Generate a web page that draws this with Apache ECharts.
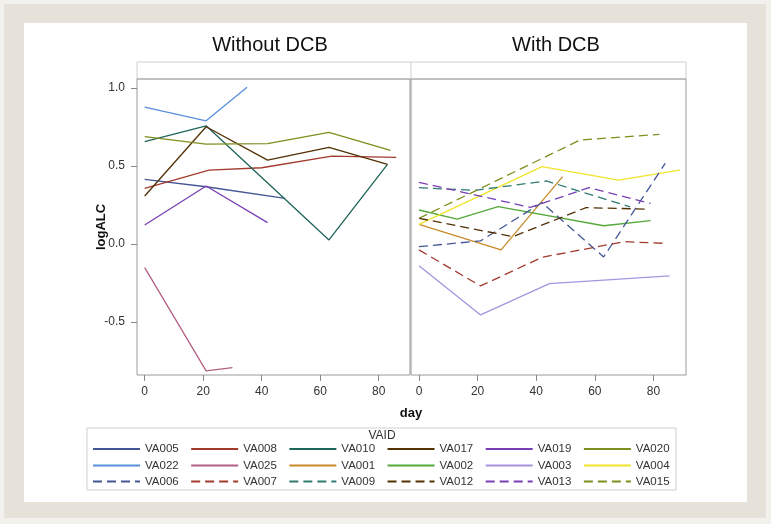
<!DOCTYPE html>
<html>
<head>
<meta charset="utf-8">
<script src="https://cdn.jsdelivr.net/npm/echarts@6/dist/echarts.min.js"></script>
<style>
html, body { margin: 0; padding: 0; background: #f3f1ed; }
#chart { width: 771px; height: 524px; }
</style>
</head>
<body>
<div id="chart"></div>
<script>
// day, logALC pairs
// Without DCB
var va005 = [[0, 0.415], [21, 0.367], [48, 0.293]];
var va008 = [[0, 0.357], [22, 0.474], [40, 0.489], [64, 0.564], [86, 0.556]];
var va010 = [[0, 0.656], [21, 0.758], [63, 0.026], [83, 0.51]];
var va017 = [[0, 0.308], [21, 0.752], [42, 0.538], [63, 0.62], [83, 0.51]];
var va019 = [[0, 0.122], [21, 0.372], [42, 0.137]];
var va020 = [[0, 0.688], [21, 0.64], [42, 0.643], [63, 0.716], [84, 0.60]];
var va022 = [[0, 0.878], [21, 0.79], [35, 1.005]];
var va025 = [[0, -0.152], [21, -0.814], [30, -0.793]];
// With DCB
var va001 = [[0, 0.126], [28, -0.038], [49, 0.432]];
var va002 = [[0, 0.218], [13, 0.16], [27, 0.239], [63, 0.117], [79, 0.15]];
var va003 = [[0, -0.139], [21, -0.455], [44.5, -0.254], [85.5, -0.205]];
var va004 = [[0, 0.126], [42, 0.496], [68, 0.41], [89, 0.474]];
var va006 = [[0, -0.017], [21, 0.02], [42, 0.265], [63, -0.083], [84, 0.517]];
var va007 = [[0, -0.038], [21, -0.269], [42, -0.085], [70, 0.015], [84, 0.004]];
var va009 = [[0, 0.361], [19, 0.344], [43.5, 0.404], [72, 0.238]];
var va012 = [[0, 0.165], [32, 0.047], [57, 0.233], [77, 0.224]];
var va013 = [[0, 0.395], [38, 0.235], [58, 0.361], [79, 0.26]];
var va015 = [[0, 0.165], [55, 0.667], [82, 0.703]];

var panelTitles = ['Without DCB', 'With DCB'];
var xTicks = [0, 20, 40, 60, 80];
var yTicks = [-0.5, 0, 0.5, 1.0];

var leftIds = ['VA005', 'VA008', 'VA010', 'VA017', 'VA019', 'VA020', 'VA022', 'VA025'];
var rightIds = ['VA001', 'VA002', 'VA003', 'VA004', 'VA006', 'VA007', 'VA009', 'VA012', 'VA013', 'VA015'];
var legendRows = [
    ['VA005', 'VA008', 'VA010', 'VA017', 'VA019', 'VA020'],
    ['VA022', 'VA025', 'VA001', 'VA002', 'VA003', 'VA004'],
    ['VA006', 'VA007', 'VA009', 'VA012', 'VA013', 'VA015']
];

var subjects = {
    VA005: va005, VA008: va008, VA010: va010, VA017: va017, VA019: va019, VA020: va020,
    VA022: va022, VA025: va025, VA001: va001, VA002: va002, VA003: va003, VA004: va004,
    VA006: va006, VA007: va007, VA009: va009, VA012: va012, VA013: va013, VA015: va015
};
var colors = {
    VA005: '#445694', VA008: '#a23a2e', VA010: '#1f6659', VA017: '#543005', VA019: '#7a3fb5', VA020: '#7f8e1f',
    VA022: '#5b8fdc', VA025: '#b26084', VA001: '#c98a2a', VA002: '#55a83a', VA003: '#a794de', VA004: '#f0e42a',
    VA006: '#445694', VA007: '#a23a2e', VA009: '#2f7a72', VA012: '#543005', VA013: '#7a3fb5', VA015: '#7f8e1f'
};
var dashed = ['VA006', 'VA007', 'VA009', 'VA012', 'VA013', 'VA015'];

var FONT = 'Liberation Sans, Arial, sans-serif';

function makeSeries(id, gi) {
    return {
        name: id,
        type: 'line',
        xAxisIndex: gi,
        yAxisIndex: gi,
        data: subjects[id],
        symbol: 'none',
        silent: true,
        lineStyle: {
            color: colors[id],
            width: 1.3,
            type: dashed.indexOf(id) >= 0 ? [9, 5] : 'solid'
        },
        itemStyle: { color: colors[id], opacity: 0 }
    };
}

function xAxis(gi, min, max) {
    return {
        type: 'value', gridIndex: gi, min: min, max: max,
        axisLine: { show: false, onZero: false },
        splitLine: { show: false },
        axisTick: { show: true, length: 6, customValues: xTicks, lineStyle: { color: '#888' } },
        axisLabel: { customValues: xTicks, margin: 11, color: '#333', fontSize: 12, fontFamily: FONT }
    };
}

function yAxis(gi, showLabels) {
    return {
        type: 'value', gridIndex: gi, min: -0.84, max: 1.058,
        axisLine: { show: false, onZero: false },
        splitLine: { show: false },
        axisTick: { show: showLabels, length: 6, customValues: yTicks, lineStyle: { color: '#888' } },
        axisLabel: {
            show: showLabels, customValues: yTicks, margin: 12, color: '#333', fontSize: 12, fontFamily: FONT,
            formatter: function (v) { return v.toFixed(1); }
        }
    };
}

function legendRow(row, top) {
    return {
        data: row, left: 92, top: top, padding: 0,
        itemWidth: 47, itemHeight: 10, itemGap: 11.5,
        selectedMode: false,
        itemStyle: { opacity: 0 },
        textStyle: { color: '#333', fontSize: 11.5, fontFamily: FONT }
    };
}

var series = [];
leftIds.forEach(function (id) { series.push(makeSeries(id, 0)); });
rightIds.forEach(function (id) { series.push(makeSeries(id, 1)); });

var chart = echarts.init(document.getElementById('chart'));
chart.setOption({
    animation: false,
    backgroundColor: '#f3f1ed',
    grid: [
        { left: 137, top: 79, width: 273, height: 296, show: true, borderColor: '#9a9a9a', borderWidth: 1 },
        { left: 411, top: 79, width: 275, height: 296, show: true, borderColor: '#9a9a9a', borderWidth: 1 }
    ],
    xAxis: [xAxis(0, -2.63, 90.7), xAxis(1, -2.73, 91.1)],
    yAxis: [yAxis(0, true), yAxis(1, false)],
    legend: [legendRow(legendRows[0], 443), legendRow(legendRows[1], 459.5), legendRow(legendRows[2], 475.5)],
    graphic: [
        { type: 'rect', z: -20, shape: { x: 4, y: 4, width: 762, height: 514 }, style: { fill: '#e7e2d9' } },
        { type: 'rect', z: -19, shape: { x: 24, y: 23, width: 723, height: 479 }, style: { fill: '#ffffff' } },
        { type: 'rect', z: -18, shape: { x: 137, y: 62, width: 549, height: 17 }, style: { fill: 'none', stroke: '#cfcfcf', lineWidth: 1 } },
        { type: 'line', z: -18, shape: { x1: 411, y1: 62, x2: 411, y2: 79 }, style: { stroke: '#cfcfcf', lineWidth: 1 } },
        { type: 'text', x: 270, y: 45, style: { text: panelTitles[0], font: '20px ' + FONT, fill: '#111', textAlign: 'center', textVerticalAlign: 'middle' } },
        { type: 'text', x: 556, y: 45, style: { text: panelTitles[1], font: '20px ' + FONT, fill: '#111', textAlign: 'center', textVerticalAlign: 'middle' } },
        { type: 'text', x: 101, y: 227, rotation: Math.PI / 2, style: { text: 'logALC', font: 'bold 13px ' + FONT, fill: '#111', textAlign: 'center', textVerticalAlign: 'middle' } },
        { type: 'text', x: 411, y: 413, style: { text: 'day', font: 'bold 13px ' + FONT, fill: '#111', textAlign: 'center', textVerticalAlign: 'middle' } },
        { type: 'rect', z: -18, shape: { x: 87, y: 428, width: 589, height: 62 }, style: { fill: 'none', stroke: '#cfcfcf', lineWidth: 1 } },
        { type: 'text', x: 382, y: 436, style: { text: 'VAID', font: '12px ' + FONT, fill: '#333', textAlign: 'center', textVerticalAlign: 'middle' } }
    ],
    series: series
});
</script>
</body>
</html>
